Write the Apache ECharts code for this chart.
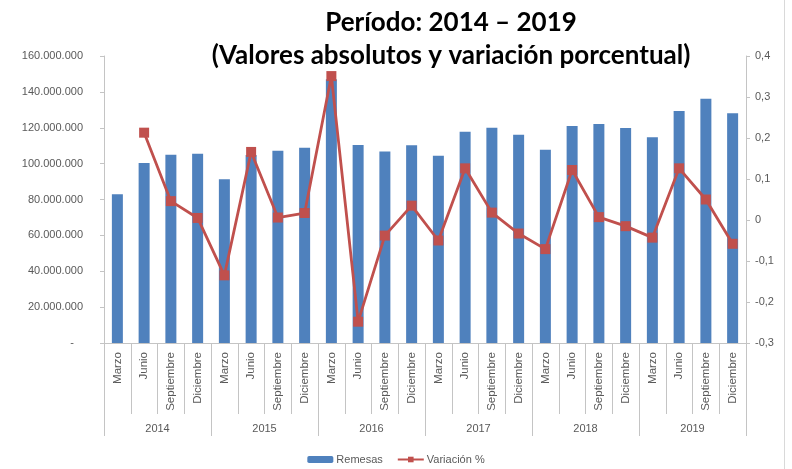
<!DOCTYPE html>
<html>
<head>
<meta charset="utf-8">
<script src="https://cdn.jsdelivr.net/npm/echarts@6/dist/echarts.min.js"></script>
<style>
html,body{margin:0;padding:0;background:#fff;}
#chart{width:792px;height:469px;}
</style>
</head>
<body>
<div id="chart"></div>
<script>
const months = ['Marzo','Junio','Septiembre','Diciembre','Marzo','Junio','Septiembre','Diciembre','Marzo','Junio','Septiembre','Diciembre','Marzo','Junio','Septiembre','Diciembre','Marzo','Junio','Septiembre','Diciembre','Marzo','Junio','Septiembre','Diciembre'];
const years = ['2014','2015','2016','2017','2018','2019'];
const remesas = [82900000,100300000,105000000,105500000,91300000,104800000,107200000,108900000,147000000,110400000,106700000,110200000,104400000,117800000,120000000,116100000,107800000,121000000,122100000,119900000,114700000,129300000,136200000,128100000];
const variacion = [null,0.213,0.046,0.005,-0.135,0.166,0.006,0.017,0.351,-0.248,-0.038,0.035,-0.050,0.126,0.018,-0.033,-0.071,0.122,0.007,-0.015,-0.043,0.126,0.050,-0.058];
const leftTicks = {min:0, max:160000000, interval:20000000};
const rightTicks = {min:-0.3, max:0.4, interval:0.1};

const axisGray = '#c4c4c4';
const labelGray = '#595959';
const fontFam = '"Liberation Sans", Arial, sans-serif';
const titleFont = 'bold 26px Lato, "Open Sans", sans-serif';

function fmtLeft(v){
  if (v === 0) return '-   ';
  return String(Math.round(v)).replace(/\B(?=(\d{3})+(?!\d))/g, '.');
}
function fmtRight(v){
  const r = Math.round(v*10)/10;
  if (r === 0) return '0';
  return r.toFixed(1).replace('.', ',');
}

const chart = echarts.init(document.getElementById('chart'), null, {renderer:'canvas'});
chart.setOption({
  animation:false,
  backgroundColor:'#ffffff',
  graphic:[
    {type:'text', x:451, y:23, style:{text:'Período: 2014 – 2019', align:'center', verticalAlign:'middle', fill:'#000', font:titleFont}},
    {type:'text', x:451, y:56, style:{text:'(Valores absolutos y variación porcentual)', align:'center', verticalAlign:'middle', fill:'#000', font:titleFont}},
    {type:'line', shape:{x1:784.5, y1:0, x2:784.5, y2:469}, style:{stroke:'#d9d9d9', lineWidth:1}}
  ],
  grid:{left:104, right:46, top:56, bottom:126, containLabel:false},
  legend:{
    data:['Remesas','Variación %'],
    left:'center', top:449,
    itemGap:14, itemWidth:26, itemHeight:7,
    textStyle:{color:labelGray, fontSize:11, fontFamily:fontFam, padding:[0,0,0,-2]}
  },
  xAxis:[
    {
      type:'category', data:months, position:'bottom',
      axisLine:{show:true, onZero:false, lineStyle:{color:axisGray, width:1}},
      axisTick:{show:true, interval:0, length:71, lineStyle:{color:axisGray}},
      axisLabel:{interval:0, rotate:90, margin:9, color:labelGray, fontSize:11.5, fontFamily:fontFam}
    },
    {
      type:'category', data:years, position:'bottom',
      axisLine:{show:false, onZero:false},
      axisTick:{show:true, interval:0, length:93, lineStyle:{color:axisGray}},
      axisLabel:{interval:0, margin:80, color:labelGray, fontSize:11, fontFamily:fontFam}
    }
  ],
  yAxis:[
    {
      type:'value', min:leftTicks.min, max:leftTicks.max, interval:leftTicks.interval,
      splitLine:{show:false},
      axisLine:{show:true, lineStyle:{color:axisGray}},
      axisTick:{show:true, length:4, lineStyle:{color:axisGray}},
      axisLabel:{formatter:fmtLeft, margin:21, color:labelGray, fontSize:11, fontFamily:fontFam}
    },
    {
      type:'value', position:'right', min:rightTicks.min, max:rightTicks.max, interval:rightTicks.interval,
      splitLine:{show:false},
      axisLine:{show:true, lineStyle:{color:axisGray}},
      axisTick:{show:true, length:4, lineStyle:{color:axisGray}},
      axisLabel:{formatter:fmtRight, margin:9, color:labelGray, fontSize:11, fontFamily:fontFam}
    }
  ],
  series:[
    {
      name:'Remesas', type:'bar', xAxisIndex:0, yAxisIndex:0, data:remesas,
      barWidth:11, itemStyle:{color:'#4f81bd'}
    },
    {
      name:'Variación %', type:'line', xAxisIndex:0, yAxisIndex:1, data:variacion,
      connectNulls:false,
      lineStyle:{color:'#c0504d', width:2.8},
      itemStyle:{color:'#c0504d'},
      symbol:'rect', symbolSize:10, showSymbol:true
    }
  ]
});
</script>
</body>
</html>
